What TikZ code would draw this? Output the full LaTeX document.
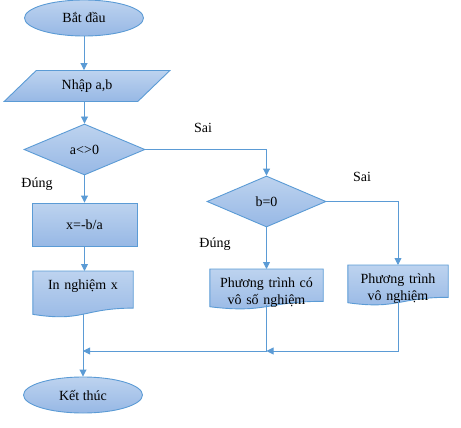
\documentclass[tikz,border=0pt]{standalone}
\usepackage{fontspec}
\setmainfont{Liberation Serif}
\usetikzlibrary{positioning,shapes.geometric,arrows.meta,calc,backgrounds}
\definecolor{boxtop}{HTML}{BDD3EF}
\definecolor{boxbot}{HTML}{97B8E5}
\definecolor{boxline}{HTML}{5B9BD5}

% wavy bottom of a document box
\newcommand\docpath[1]{%
	\path[box] let \p1=(#1.north west), \p2=(#1.south east) in
	(\x1,\y1) -- (\x2,\y1) -- (\x2,{\y1+0.8*(\y2-\y1)})
	.. controls ({(\x1+\x2)/2},{\y1+0.8*(\y2-\y1)}) and ({(\x1+\x2)/2},{\y1+1.107*(\y2-\y1)})
	.. (\x1,{\y1+0.934*(\y2-\y1)}) -- cycle;}

\begin{document}
\begin{tikzpicture}
		[x=1pt,y=1pt,
		every node/.style={font=\fontsize{14}{17}\selectfont},
		box/.style={draw=boxline,line width=0.9pt,top color=boxtop,bottom color=boxbot,inner sep=0pt},
		term/.style={box,ellipse,minimum width=119,minimum height=36},
		inbox/.style={box,trapezium,trapezium left angle=38.5,trapezium right angle=141.5,
			trapezium stretches=true,minimum width=166,minimum height=31},
		test/.style={box,diamond,minimum width=121,minimum height=51},
		stepbox/.style={box,rectangle,minimum width=105,minimum height=43},
		docshape/.style 2 args={text width=#1,align=center,inner sep=0pt,text height=18,text depth=#2},
		flow/.style={draw=boxline,line width=0.9pt,-{Triangle[length=7pt,width=7pt]}}]
		\useasboundingbox (0,0) rectangle (461,-428);
		% main column
		\node[term] (start) at (84,-18) {Bắt đầu};
		\node[inbox] (input) at (87,-86) {Nhập a,b};
		\node[test] (test1) at (84.5,-149.5) {a<>0};
		\node[stepbox] (calc) at (84.5,-224.5) {x=-b/a};
		\node[docshape={100}{28},anchor=north] (out) at (83,-271) {In nghiệm x};
		\node[term] (end) at (83,-395) {Kết thúc};
		% right branch
		\node[test,minimum width=119] (test2) at (266.5,-201.5) {b=0};
		\node[docshape={113}{22},anchor=north] (doc1) at (266.5,-269) {Phương trình có vô số nghiệm};
		\node[docshape={100}{22},anchor=north] (doc2) at (398,-265) {Phương trình\\vô nghiệm};
		\begin{scope}[on background layer]
			\docpath{out}
			\docpath{doc1}
			\docpath{doc2}
		\end{scope}
		% labels
		\node (sai1) at (203,-128) {Sai};
		\node (dung1) at (37,-184) {Đúng};
		\node (sai2) at (362,-177) {Sai};
		\node (dung2) at (215,-244) {Đúng};
		\coordinate (join) at (0,-351);
		% connectors
		\draw[flow] (start.south) -- (start.south |- input.north);
		\draw[flow] (test1.north |- input.south) -- (test1.north);
		\draw[flow] (test1.south) -- (calc.north);
		\draw[flow] (calc.south) -- (calc.south |- out.north);
		\draw[flow] ([yshift=3pt]out.south) -- (end.north);
		\draw[flow] (test1.east) -| (test2.north);
		\draw[flow] (test2.south) -- (test2.south |- doc1.north);
		\draw[flow] (test2.east) -| (doc2.north);
		\draw[flow] ([yshift=4pt]doc1.south) |- (out.south |- join);
		\draw[flow] ([yshift=4pt]doc2.south) |- (doc1.south |- join);
\end{tikzpicture}
\end{document}
